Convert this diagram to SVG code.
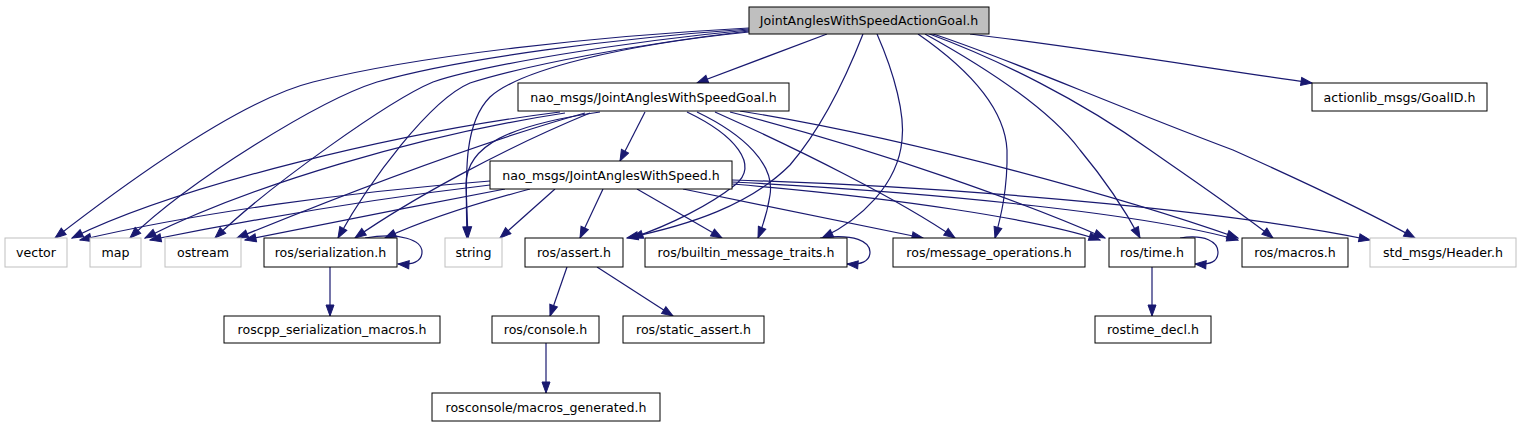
<svg xmlns="http://www.w3.org/2000/svg" width="1520" height="427" viewBox="0 0 1520 427">
<style>
.e{fill:none;stroke:#191970;stroke-width:1.2;marker-end:url(#ah)}
.n rect{fill:#fff;stroke:#000;stroke-width:1}
.g rect{fill:#fff;stroke:#bfbfbf;stroke-width:1}
text{font-family:"DejaVu Sans","Liberation Sans",sans-serif;font-size:12.6px;fill:#000;text-anchor:middle}
</style>
<defs>
<marker id="ah" viewBox="-1 -1 13 10" refX="11" refY="4" markerWidth="13" markerHeight="10" orient="auto" markerUnits="userSpaceOnUse">
<path d="M0,0 L11,4 L0,8 z" fill="#191970" stroke="#191970" stroke-width="1"/>
</marker>
</defs>
<rect width="1520" height="427" fill="#fff"/>
<g id="edges">
<path class="e" d="M749,28 C600,36 420,55 313,82 C240,100 130,180 55,238"/>
<path class="e" d="M749,29 C620,38 460,58 377,82 C320,100 190,180 130,238"/>
<path class="e" d="M749,30 C620,42 480,66 433,82 C390,100 270,185 215,238"/>
<path class="e" d="M749,31 C640,44 530,64 470,83 C430,100 370,180 338,238"/>
<path class="e" d="M749,32 C620,45 520,70 490,97 C462,125 466,180 467,238"/>
<path class="e" d="M827,34 L697,83"/>
<path class="e" d="M863,34 C845,80 820,130 790,165 C750,205 690,225 627,238"/>
<path class="e" d="M877,34 C895,75 905,115 902,140 C898,185 860,220 822,238"/>
<path class="e" d="M918,34 C970,70 1005,110 1007,150 C1008,190 1000,220 995,238"/>
<path class="e" d="M925,34 C990,70 1050,110 1080,150 C1105,180 1125,210 1140,238"/>
<path class="e" d="M927,33 C1000,60 1080,100 1150,150 C1200,185 1240,212 1273,238"/>
<path class="e" d="M930,33 C1000,55 1100,100 1233,150 C1300,180 1370,213 1415,238"/>
<path class="e" d="M970,34 C1100,50 1200,67 1312,83"/>
<path class="e" d="M645,112 L620,161"/>
<path class="e" d="M560,112 C400,132 180,185 72,238"/>
<path class="e" d="M565,113 C420,135 250,185 145,238"/>
<path class="e" d="M585,113 C470,145 330,200 237,238"/>
<path class="e" d="M590,113 C500,150 410,200 355,238"/>
<path class="e" d="M600,112 C510,125 466,145 466,185 L468,238"/>
<path class="e" d="M687,112 C735,135 760,165 735,185 C710,205 670,225 632,238"/>
<path class="e" d="M697,112 C745,135 775,165 770,195 C767,215 762,228 758,238"/>
<path class="e" d="M715,112 C800,150 900,200 955,238"/>
<path class="e" d="M730,112 C880,150 1030,205 1105,238"/>
<path class="e" d="M740,111 C920,140 1130,200 1238,238"/>
<path class="e" d="M490,181 C350,192 200,212 80,240"/>
<path class="e" d="M490,185 C380,198 250,220 150,240"/>
<path class="e" d="M505,189 C420,205 320,225 245,240"/>
<path class="e" d="M530,189 C470,205 420,222 385,238"/>
<path class="e" d="M555,189 L500,238"/>
<path class="e" d="M603,189 L580,238"/>
<path class="e" d="M637,189 L722,238"/>
<path class="e" d="M683,189 L923,238"/>
<path class="e" d="M732,184 C900,198 1040,220 1100,240"/>
<path class="e" d="M732,182 C950,193 1150,215 1238,240"/>
<path class="e" d="M732,180 C1000,188 1250,215 1370,240"/>
<path class="e" d="M365,238 C400,232 422,240 422,252 C422,262 412,265 398,264"/>
<path class="e" d="M820,238 C855,233 870,242 870,252 C870,262 860,265 847,264"/>
<path class="e" d="M1180,238 C1205,234 1218,242 1218,252 C1218,262 1210,265 1195,264"/>
<path class="e" d="M330,267 L330,316"/>
<path class="e" d="M567,267 L550,316"/>
<path class="e" d="M597,267 L673,316"/>
<path class="e" d="M546,343 L546,393"/>
<path class="e" d="M1152,267 L1152,316"/>
</g>
<g id="root" class="n"><rect x="749" y="7" width="240" height="27" style="fill:#bfbfbf"/><text x="869" y="25">JointAnglesWithSpeedActionGoal.h</text></g>
<g id="goal" class="n"><rect x="518" y="83" width="271" height="28"/><text x="653.5" y="102">nao_msgs/JointAnglesWithSpeedGoal.h</text></g>
<g id="goalid" class="n"><rect x="1312" y="83" width="175" height="28"/><text x="1399.5" y="102">actionlib_msgs/GoalID.h</text></g>
<g id="speed" class="n"><rect x="490" y="161" width="242" height="28"/><text x="611" y="180">nao_msgs/JointAnglesWithSpeed.h</text></g>
<g id="vector" class="g"><rect x="5" y="238" width="62" height="29"/><text x="36" y="257">vector</text></g>
<g id="map" class="g"><rect x="90" y="238" width="51" height="29"/><text x="115.5" y="257">map</text></g>
<g id="ostream" class="g"><rect x="165" y="238" width="76" height="29"/><text x="203" y="257">ostream</text></g>
<g id="serialization" class="n"><rect x="264" y="238" width="133" height="29"/><text x="330.5" y="257">ros/serialization.h</text></g>
<g id="string" class="g"><rect x="445" y="238" width="57" height="29"/><text x="473.5" y="257">string</text></g>
<g id="assert" class="n"><rect x="525" y="238" width="98" height="29"/><text x="574" y="257">ros/assert.h</text></g>
<g id="builtin" class="n"><rect x="645" y="238" width="202" height="29"/><text x="746" y="257">ros/builtin_message_traits.h</text></g>
<g id="msgops" class="n"><rect x="893" y="238" width="192" height="29"/><text x="989" y="257">ros/message_operations.h</text></g>
<g id="time" class="n"><rect x="1109" y="238" width="86" height="29"/><text x="1152" y="257">ros/time.h</text></g>
<g id="macros" class="n"><rect x="1242" y="238" width="106" height="29"/><text x="1295" y="257">ros/macros.h</text></g>
<g id="header" class="g"><rect x="1370" y="238" width="146" height="29"/><text x="1443" y="257">std_msgs/Header.h</text></g>
<g id="sermacros" class="n"><rect x="224" y="316" width="216" height="27"/><text x="332" y="334">roscpp_serialization_macros.h</text></g>
<g id="console" class="n"><rect x="492" y="316" width="107" height="27"/><text x="545.5" y="334">ros/console.h</text></g>
<g id="staticassert" class="n"><rect x="623" y="316" width="141" height="27"/><text x="693.5" y="334">ros/static_assert.h</text></g>
<g id="rostimedecl" class="n"><rect x="1095" y="316" width="116" height="27"/><text x="1153" y="334">rostime_decl.h</text></g>
<g id="macrosgen" class="n"><rect x="432" y="393" width="228" height="28"/><text x="546" y="412">rosconsole/macros_generated.h</text></g>
</svg>
